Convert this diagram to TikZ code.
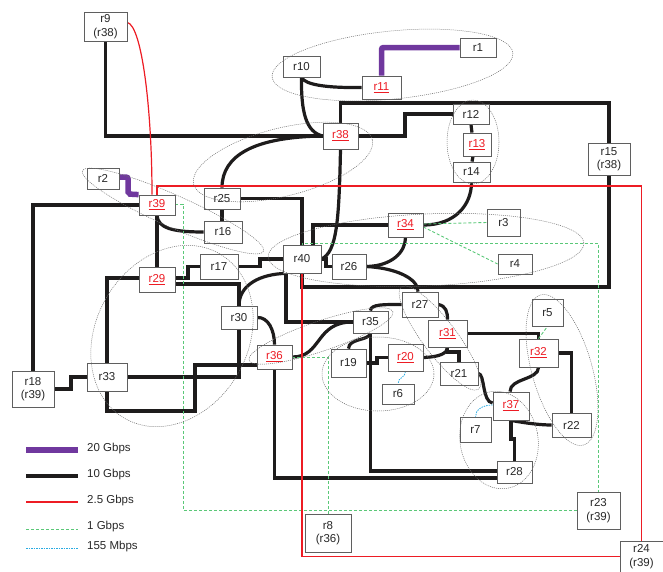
\documentclass[tikz,border=0pt]{standalone}
\usepackage{fontspec}
\setmainfont{Liberation Sans}
\definecolor{purp}{RGB}{112,56,158}
\definecolor{blk}{RGB}{30,28,28}
\definecolor{redc}{RGB}{237,28,36}
\definecolor{grn}{RGB}{90,200,120}
\definecolor{cyn}{RGB}{41,171,226}
\definecolor{boxc}{RGB}{95,95,95}
\definecolor{txt}{RGB}{40,40,40}
\definecolor{ellc}{RGB}{110,110,110}
\pgfdeclarelayer{edges}
\pgfdeclarelayer{top}
\pgfsetlayers{edges,main,top}
\tikzset{
  box/.style={draw=boxc, line width=0.8pt, fill=white, inner sep=0pt, text=txt,
    font=\fontsize{11.5}{13.5}\selectfont, align=center},
  rbox/.style={box, text=redc},
  sz/.style 2 args={minimum width=#1pt, minimum height=#2pt},
  gA/.style={draw=purp, line width=5.5pt, rounded corners=2pt},
  gB/.style={draw=blk, line width=3.2pt},
  gC/.style={draw=redc, line width=1.2pt},
  gD/.style={draw=grn, line width=0.9pt, dash pattern=on 3pt off 2pt},
  gE/.style={draw=cyn, line width=0.8pt, dash pattern=on 1.5pt off 1pt},
  ell/.style={draw=ellc, line width=0.5pt, dash pattern=on 1pt off 1pt},
  lgt/.style={anchor=west, text=txt, font=\fontsize{11.5}{13.5}\selectfont, inner sep=0pt}
}
\begin{document}
\begin{tikzpicture}[x=1pt,y=-1pt]
\useasboundingbox (0,0) rectangle (663,571);
% ---------------- nodes ----------------
\node[box, sz={43}{29}] (r9) at (105.5,26.5) {r9\\(r38)};
\node[box, sz={37}{21}] (r10) at (301.5,66.5) {r10};
\node[box, sz={36}{19}] (r1) at (478,47.5) {r1};
\node[rbox, sz={39}{23}] (r11) at (381.5,87.5) {\underline{r11}};
\node[box, sz={36}{20}] (r12) at (471,114) {r12};
\node[rbox, sz={28}{23}] (r13) at (477,144.5) {\underline{r13}};
\node[box, sz={37}{20}] (r14) at (471.5,172) {r14};
\node[box, sz={42}{32}] (r15) at (609,159) {r15\\(r38)};
\node[rbox, sz={35}{26}] (r38) at (340.5,136) {\underline{r38}};
\node[box, sz={36}{21}] (r25) at (222,198.5) {r25};
\node[box, sz={32}{21}] (r2) at (103,178.5) {r2};
\node[rbox, sz={36}{20}] (r39) at (157,205) {\underline{r39}};
\node[box, sz={38}{22}] (r16) at (223,232) {r16};
\node[rbox, sz={36}{25}] (r29) at (157,279.5) {\underline{r29}};
\node[box, sz={38}{25}] (r17) at (219,266.5) {r17};
\node[box, sz={38}{28}] (r40) at (302,259) {r40};
\node[box, sz={36}{23}] (r30) at (239,317.5) {r30};
\node[rbox, sz={35}{24}] (r36) at (274.5,357) {\underline{r36}};
\node[box, sz={40}{28}] (r33) at (107,377) {r33};
\node[box, sz={42}{36}] (r18) at (33,389) {r18\\(r39)};
\node[rbox, sz={35}{24}] (r34) at (405.5,225) {\underline{r34}};
\node[box, sz={33}{27}] (r3) at (503.5,222.5) {r3};
\node[box, sz={34}{20}] (r4) at (515,264) {r4};
\node[box, sz={34}{25}] (r26) at (349,266.5) {r26};
\node[box, sz={36}{25}] (r27) at (420,304.5) {r27};
\node[box, sz={35}{22}] (r35) at (370.5,322) {r35};
\node[rbox, sz={39}{27}] (r31) at (447.5,333.5) {\underline{r31}};
\node[box, sz={31}{27}] (r5) at (547.5,312.5) {r5};
\node[rbox, sz={39}{28}] (r32) at (538.5,353) {\underline{r32}};
\node[box, sz={35}{28}] (r19) at (348.5,363) {r19};
\node[rbox, sz={35}{27}] (r20) at (405.5,357.5) {\underline{r20}};
\node[box, sz={38}{23}] (r21) at (459,373.5) {r21};
\node[box, sz={32}{20}] (r6) at (398,394) {r6};
\node[rbox, sz={36}{28}] (r37) at (511,406) {\underline{r37}};
\node[box, sz={31}{25}] (r7) at (475.5,429.5) {r7};
\node[box, sz={39}{24}] (r22) at (571.5,425) {r22};
\node[box, sz={35}{22}] (r28) at (514.5,472) {r28};
\node[box, sz={43}{37}] (r23) at (598.5,510.5) {r23\\(r39)};
\node[box, sz={43}{31}] (r24) at (641.5,556.5) {r24\\(r39)};
\node[box, sz={46}{38}] (r8) at (328,533) {r8\\(r36)};
% ---------------- legend ----------------
\coordinate (la1) at (26,450); \coordinate (la2) at (78,450);
\coordinate (lb1) at (26,476); \coordinate (lb2) at (78,476);
\coordinate (lc1) at (26,502); \coordinate (lc2) at (78,502);
\coordinate (ld1) at (26,529); \coordinate (ld2) at (78,529);
\coordinate (le1) at (26,548); \coordinate (le2) at (78,548);
\node[lgt] (ta) at (87,449) {20 Gbps};
\node[lgt] (tb) at (87,475) {10 Gbps};
\node[lgt] (tc) at (87,501) {2.5 Gbps};
\node[lgt] (td) at (87,527) {1 Gbps};
\node[lgt] (te) at (87,547) {155 Mbps};
% ---------------- edges ----------------
\begin{pgfonlayer}{edges}
% 10 Gbps
\draw[gB] (r9.south) |- (r38.west);
\draw[gB] (r10.south) .. controls (305,85) and (328,88) .. (r11.west);
\draw[gB] (r10.south) .. controls (301,112) and (306,132) .. (r38.west);
\draw[gB] (r38.west) .. controls (255,137) and (222,155) .. (r25.north);
\draw[gB] (r38.north) -- (340.5,103) -| (r15.north);
\draw[gB] (r38.east) -- (405,136) -- (405,114) -- (r12.west);
\draw[gB] (r12.south) .. controls (471,128) and (472,130) .. ([xshift=-5pt]r13.north);
\draw[gB] ([xshift=-4pt]r13.south) -- ([xshift=0.5pt]r14.north);
\draw[gB] (r14.south) .. controls (471.5,205) and (455,225) .. (r34.east);
\draw[gB] (r38.south) .. controls (339,220) and (337,252) .. (r40.east);
\draw[gB] (r40.east) -- (326,259) -- (326,266.5) -- (r26.west);
\draw[gB] (r25.east) -| (r40.north);
\draw[gB] (r34.west) -| ([xshift=11pt]r40.north);
\draw[gB] (r25.south) -- (r25.south |- r16.north);
\draw[gB] (r39.south) .. controls (158,228) and (172,232) .. (r16.west);
\draw[gB] (r39.south) -- (r29.north);
\draw[gB] (r39.west) -| (r18.north);
\draw[gB] ([yshift=1.5pt]r29.east) -- (188,278) -- (188,266.5) -- (r17.west);
\draw[gB] (r17.east) -- (260,266.5) -- (260,259) -- (r40.west);
\draw[gB] ([yshift=-4.5pt]r29.east) -| (r30.north);
\draw[gB] ([yshift=1.5pt]r29.west) -| (r33.north);
\draw[gB] (r18.east) -- (71,389) -- (71,377) -- (r33.west);
\draw[gB] (r33.east) -| (r30.south);
\draw[gB] (r33.south) |- (195,411) -- (195,365) -- ([yshift=-8pt]r36.west);
\draw[gB] (r30.north) .. controls (239,285) and (260,274) .. ([xshift=-16pt]r40.south);
\draw[gB] (r30.east) .. controls (268,317) and (274.5,330) .. (r36.north);
\draw[gB] ([xshift=-16pt]r40.south) |- (r35.west);
\draw[gB] (r36.east) .. controls (322,357) and (315,322) .. (r35.west);
\draw[gB] (r35.north) .. controls (370.5,304) and (385,304.5) .. (r27.west);
\draw[gB] (r35.south) .. controls (368,341) and (349,338) .. (r19.north);
\draw[gB] (r35.south) |- ([yshift=1pt]r28.west);
\draw[gB] (r36.south) |- ([yshift=-6pt]r28.west);
\draw[gB] (r19.east) -- (377,363) -- (377,357.5) -- (r20.west);
\draw[gB] (r20.east) .. controls (440,357) and (447.5,353) .. (r31.south);
\draw[gB] (r31.south) -- (447.5,352) -| (r21.north);
\draw[gB] (r27.east) .. controls (446,306) and (447.5,312) .. (r31.north);
\draw[gB] (r26.east) .. controls (392,266) and (405.5,252) .. (r34.south);
\draw[gB] (r26.east) .. controls (395,268) and (418,278) .. ([xshift=-2pt]r27.north);
\draw[gB] (r40.south) -- (302,287) -| (r15.south);
\draw[gB] (r21.east) .. controls (485,374) and (482,402) .. ([yshift=3pt]r37.west);
\draw[gB] ([xshift=-1pt]r37.north) .. controls (510,378) and (538.5,380) .. (r32.south);
\draw[gB] (r37.south) .. controls (525,423) and (540,425) .. (r22.west);
\draw[gB] (r37.south) -- (511,439) -- (514.5,439) -- (r28.north);
\draw[gB] (r32.east) -| (r22.north);
\draw[gB] (r31.east) -| (r32.north);
% 1 Gbps
\draw[gD] ([yshift=1pt]r34.east) -- (r3.west);
\draw[gD] ([yshift=-2pt]r34.east) -- (r4.west);
\draw[gD] (r32.north) -- (r5.south);
\draw[gD] ([yshift=1pt]r39.east) -- (183,204) |- (r23.west);
\draw[gD] (r40.north) -- (302,243) -| (r23.north);
\draw[gD] (r36.east) -| (r8.north);
% 155 Mbps
\draw[gE] (r20.south) .. controls (405.5,378) and (398,377) .. (r6.north);
\draw[gE] ([yshift=1pt]r37.west) .. controls (482,405) and (475.5,410) .. (r7.north);
% 2.5 Gbps
\draw[gC] ([yshift=4pt]r9.east) .. controls (142,26) and (152,110) .. ([xshift=-5pt]r39.north);
\draw[gC] (r39.north) -- (157,186) -| (r24.north);
\draw[gC] (r40.south) |- (r24.west);
% 20 Gbps
\draw[gA] (r11.north) |- (r1.west);
\draw[gA] ([yshift=1.5pt]r2.east) -- (128,177) -- (128,194) -- (r39.north west);
% legend lines
\draw[gA, rounded corners=0pt] (la1) -- (la2);
\draw[gB] (lb1) -- (lb2);
\draw[gC] (lc1) -- (lc2);
\draw[gD] (ld1) -- (ld2);
\draw[gE] (le1) -- (le2);
\end{pgfonlayer}
% ---------------- groups ----------------
\begin{pgfonlayer}{top}
\draw[ell, rotate around={5.7:(392.5,65)}] (392.5,65) ellipse [x radius=121, y radius=34];
\draw[ell, rotate around={14:(283,162)}] (283,162) ellipse [x radius=92, y radius=34];
\draw[ell] (473,142) ellipse [x radius=26, y radius=42];
\draw[ell, rotate around={-24:(173,211)}] (173,211) ellipse [x radius=99, y radius=16];
\draw[ell, rotate around={2.5:(426,250)}] (426,250) ellipse [x radius=158, y radius=36];
\draw[ell, rotate around={60:(172,336)}] (172,336) ellipse [x radius=95, y radius=76];
\draw[ell, rotate around={18.7:(321,336)}] (321,336) ellipse [x radius=76, y radius=15];
\draw[ell] (378,374) ellipse [x radius=56, y radius=37];
\draw[ell, rotate around={-53:(440,338)}] (440,338) ellipse [x radius=64, y radius=17];
\draw[ell, rotate around={-74:(562,370)}] (562,370) ellipse [x radius=78, y radius=30];
\draw[ell, rotate around={10:(499,440)}] (499,440) ellipse [x radius=39, y radius=49];
\end{pgfonlayer}
\end{tikzpicture}
\end{document}
